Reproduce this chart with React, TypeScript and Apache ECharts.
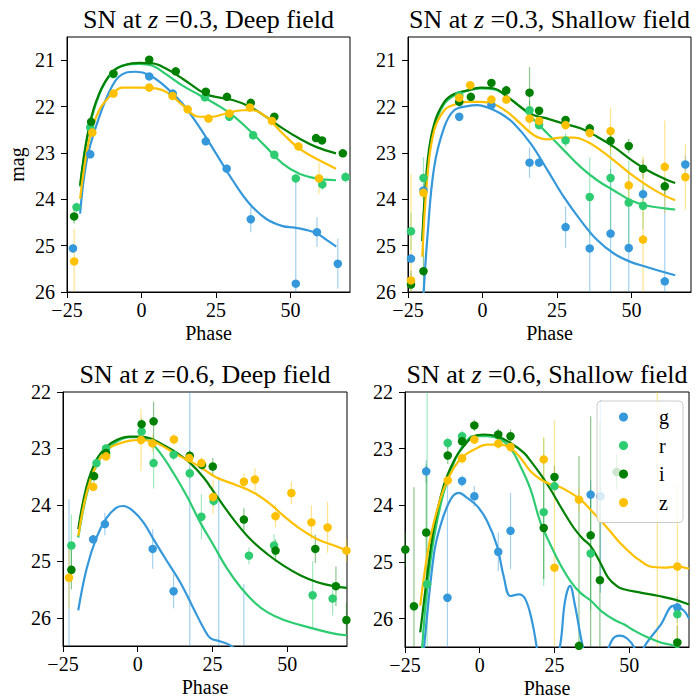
import React, { useEffect, useRef } from "react";
import * as echarts from "echarts";

// ---------- data: [phase, mag, err] ----------
const BANDS = ["g", "r", "i", "z"];
const COLORS = ["#3498db", "#2ecc71", "#008000", "#ffc000"];
const X_TICKS = [-25, 0, 25, 50];
const Y_TICKS_TOP = [21, 22, 23, 24, 25, 26];
const Y_TICKS_BOTTOM = [22, 23, 24, 25, 26];

// SN at z=0.3, Deep field
const d03_g = [[-23, 25.06, 0.1], [-17.2, 23.03, 0.08], [2.6, 21.35, 0.05], [10.5, 21.72, 0.05], [21.6, 22.75, 0.07], [28.6, 23.34, 0.1], [36.7, 24.43, 0.28], [51.8, 25.82, 2.3], [58.9, 24.71, 0.32], [65.9, 25.39, 0.54]];
const d03_r = [[-21.8, 24.17, 0.1], [-17.2, 22.45, 0.06], [-9.5, 21.3, 0.05], [21.3, 21.8, 0.05], [29.5, 22.22, 0.06], [37.5, 22.62, 0.08], [44.6, 23.04, 0.1], [51.8, 23.55, 0.1], [60.7, 23.68, 0.12], [68.5, 23.52, 0.12]];
const d03_i = [[-22.6, 24.37, 0.15], [-16.9, 22.33, 0.05], [-9.4, 21.29, 0.04], [2.6, 20.99, 0.04], [11.5, 21.24, 0.04], [21.6, 21.68, 0.05], [28.7, 21.79, 0.05], [36.7, 21.92, 0.05], [44.6, 22.22, 0.06], [58.6, 22.68, 0.07], [60.6, 22.73, 0.07], [67.6, 23.01, 0.08]];
const d03_z = [[-22.6, 25.34, 0.7], [-16.5, 22.56, 0.06], [-9.4, 21.72, 0.05], [2.6, 21.59, 0.04], [10.4, 21.77, 0.05], [15.5, 22.06, 0.05], [22.5, 22.26, 0.06], [29.5, 22.15, 0.06], [36.4, 22.02, 0.06], [43.8, 22.31, 0.07], [52.7, 22.86, 0.09], [59.6, 23.55, 0.33]];
const d03_g_fit = [[-20.6, 24.31], [-18.5, 23.2], [-15.3, 22.44], [-9.7, 21.54], [-5.3, 21.27], [-1.9, 21.25], [2.6, 21.32], [8.2, 21.58], [13.8, 21.94], [19.4, 22.44], [25, 23.01], [30.6, 23.59], [36.2, 24.09], [41.8, 24.42], [47.4, 24.58], [51.4, 24.61], [55.2, 24.66], [58.7, 24.73], [62, 24.87], [65.4, 25.02]];
const d03_r_fit = [[-20.6, 23.73], [-18, 22.6], [-14.2, 21.75], [-9.7, 21.25], [-5.3, 21.1], [-0.8, 21.08], [3.7, 21.12], [8.2, 21.3], [13.8, 21.55], [19.4, 21.75], [25, 21.95], [30.6, 22.19], [36.2, 22.51], [41.8, 22.87], [47.4, 23.23], [53, 23.45], [58.6, 23.55], [65.3, 23.59]];
const d03_i_fit = [[-20.6, 23.7], [-17.6, 22.44], [-14.2, 21.72], [-9.7, 21.25], [-5.3, 21.1], [-0.8, 21.06], [3.7, 21.07], [8.2, 21.18], [13.8, 21.4], [19.4, 21.65], [22.7, 21.76], [30.6, 21.86], [36.2, 22.0], [41.8, 22.22], [47.4, 22.47], [53, 22.69], [58.6, 22.87], [65.3, 23.01]];
const d03_z_fit = [[-20.6, 23.99], [-17.6, 22.73], [-14.2, 22.08], [-9.7, 21.72], [-6.4, 21.59], [-0.8, 21.59], [4.8, 21.61], [9.3, 21.72], [13.8, 21.97], [19.4, 22.22], [23.9, 22.22], [28.3, 22.15], [33.9, 22.08], [37.3, 22.08], [41.8, 22.22], [47.4, 22.58], [53, 22.91], [58.6, 23.12], [65.3, 23.34]];

// SN at z=0.3, Shallow field
const s03_g = [[-24, 25.28, 0.1], [-19.8, 23.81, 0.15], [-7.8, 22.22, 0.06], [3.0, 21.97, 0.06], [15.8, 23.21, 0.33], [19.0, 23.21, 0.1], [27.9, 24.6, 0.45], [36.0, 25.06, 1.0], [43.0, 24.74, 1.4], [49.1, 25.05, 1.0], [53.9, 23.89, 0.15], [61.2, 25.77, 2.2], [68.1, 23.25, 0.2]];
const s03_r = [[-24, 24.69, 0.4], [-19.8, 23.54, 0.45], [-7.8, 21.76, 0.06], [15.8, 22.08, 0.2], [19.0, 22.4, 0.1], [27.9, 22.73, 0.15], [36.0, 23.95, 0.85], [43.0, 23.54, 1.1], [49.1, 24.07, 0.9], [53.9, 24.14, 0.5]];
const s03_i = [[-24, 25.84, 0.3], [-19.8, 25.55, 0.5], [-7.8, 21.9, 0.05], [-3.9, 21.79, 0.05], [3.0, 21.49, 0.05], [8.0, 21.65, 0.1], [15.8, 21.7, 0.55], [19.0, 22.09, 0.08], [27.9, 22.29, 0.08], [36.0, 22.47, 0.1], [43.0, 22.74, 0.15], [49.1, 22.85, 0.15], [53.9, 23.34, 0.2], [61.2, 23.72, 0.2]];
const s03_z = [[-24, 25.75, 2.3], [-19.8, 23.86, 0.15], [-7.8, 21.81, 0.05], [-4.1, 21.54, 0.05], [3.0, 21.85, 0.05], [8.0, 21.85, 0.08], [15.8, 22.26, 0.3], [19.0, 22.31, 0.08], [27.9, 22.4, 0.1], [36.0, 22.57, 0.1], [43.0, 22.53, 0.5], [49.1, 23.7, 0.3], [53.9, 24.87, 1.8], [61.2, 23.3, 1.0], [68.1, 23.52, 0.7]];
const s03_g_fit = [[-20, 26.3], [-18.4, 24.74], [-16.2, 23.3], [-12.8, 22.44], [-9.5, 22.08], [-5, 21.99], [-1.7, 21.97], [1.7, 22.02], [6.1, 22.15], [10.6, 22.37], [16.2, 22.8], [21.8, 23.37], [27.3, 23.95], [32.9, 24.45], [38.5, 24.88], [44.1, 25.17], [49.7, 25.35], [55.2, 25.46], [60.8, 25.57], [64.7, 25.64]];
const s03_r_fit = [[-20.2, 24.9], [-18.4, 23.3], [-16.2, 22.44], [-12.8, 21.94], [-9.5, 21.76], [-5, 21.66], [-0.6, 21.61], [3.9, 21.63], [8.4, 21.79], [12.8, 22.01], [17.3, 22.29], [21.8, 22.58], [27.3, 22.94], [32.9, 23.3], [38.5, 23.59], [44.1, 23.81], [49.7, 24.02], [55.2, 24.14], [61.9, 24.2], [64.7, 24.22]];
const s03_i_fit = [[-20.2, 24.9], [-18.4, 23.16], [-16.2, 22.37], [-12.8, 21.9], [-9.5, 21.73], [-5, 21.65], [-0.6, 21.59], [3.9, 21.61], [8.4, 21.79], [12.8, 22.01], [17.3, 22.19], [21.8, 22.26], [27.3, 22.37], [32.9, 22.47], [38.5, 22.65], [44.1, 22.87], [49.7, 23.14], [55.2, 23.37], [60.8, 23.55], [64.7, 23.65]];
const s03_z_fit = [[-20.2, 25.24], [-18.4, 23.44], [-16.2, 22.51], [-12.8, 22.08], [-9.5, 21.96], [-5, 21.9], [-0.6, 21.9], [3.9, 21.95], [8.4, 22.12], [12.8, 22.37], [17.3, 22.62], [21.8, 22.71], [26.2, 22.67], [30.7, 22.67], [35.2, 22.76], [39.6, 22.94], [44.1, 23.16], [49.7, 23.45], [55.2, 23.7], [60.8, 23.91], [64.7, 24.02]];

// SN at z=0.6, Deep field
const d06_g = [[-23, 26.8, 2.9], [-14.9, 24.61, 0.06], [-11, 24.34, 0.2], [5, 24.78, 0.35], [12, 25.53, 0.3], [17.4, 27.5, 5.5], [27.1, 27.0, 3.5], [35.5, 27.2, 1.8]];
const d06_r = [[-22.2, 24.72, 0.55], [-13.8, 23.26, 0.1], [-10.6, 23.0, 0.08], [1.3, 22.7, 0.1], [5.3, 23.26, 0.45], [12, 23.11, 0.1], [17.4, 23.44, 0.1], [21.3, 24.21, 0.4], [25.4, 23.93, 0.1], [37.2, 24.9, 0.15], [45.6, 24.72, 0.2], [58.5, 25.6, 0.6], [65.2, 25.66, 0.3]];
const d06_i = [[-22.2, 25.15, 0.35], [-14.6, 23.49, 0.1], [-10.6, 23.08, 0.08], [1.3, 22.57, 0.1], [5.3, 22.52, 0.35], [17.4, 23.13, 0.1], [21.5, 23.29, 0.1], [25.1, 23.32, 0.15], [35.5, 24.26, 0.2], [46.1, 24.81, 0.2], [59.4, 24.78, 0.25], [66.3, 25.44, 0.35], [69.8, 26.04, 0.3]];
const d06_z = [[-23, 25.29, 0.55], [-14.9, 23.68, 0.08], [-10.6, 23.14, 0.08], [1.1, 22.85, 0.55], [4.9, 22.91, 0.15], [12.1, 22.84, 0.1], [17.2, 23.17, 0.1], [21.3, 23.26, 0.1], [25.2, 23.86, 0.3], [35.5, 23.59, 0.15], [39.2, 23.55, 0.2], [46.1, 24.2, 0.2], [51.4, 23.79, 0.2], [58.1, 24.31, 0.3], [63.5, 24.4, 0.45], [69.8, 24.81, 0.2]];
const d06_g_fit = [[-19.9, 25.87], [-17.1, 25.13], [-13.8, 24.58], [-10.4, 24.23], [-7.1, 24.05], [-4.8, 24.02], [-1.5, 24.11], [1.9, 24.31], [5.3, 24.61], [9.7, 24.99], [14.2, 25.37], [18.7, 25.84], [22.1, 26.19], [24.3, 26.36], [27.7, 26.42], [31, 26.49], [34, 26.62]];
const d06_r_fit = [[-19.9, 24.58], [-17.1, 23.82], [-13.8, 23.29], [-10.4, 23.03], [-7.1, 22.88], [-2.6, 22.8], [0.8, 22.8], [4.1, 22.88], [7.5, 23.08], [12, 23.44], [16.5, 23.85], [20.9, 24.31], [25.4, 24.72], [29.9, 25.13], [34.4, 25.46], [38.9, 25.72], [43.3, 25.9], [48.9, 26.04], [54.5, 26.13], [60.1, 26.21], [65.7, 26.28], [70, 26.31]];
const d06_i_fit = [[-19.9, 24.43], [-17.1, 23.67], [-13.8, 23.2], [-10.4, 22.97], [-7.1, 22.85], [-2.6, 22.79], [0.8, 22.79], [4.1, 22.82], [8.6, 22.94], [13.1, 23.08], [17.6, 23.26], [22.1, 23.52], [26.5, 23.85], [32.1, 24.26], [37.7, 24.61], [43.3, 24.87], [48.9, 25.08], [54.5, 25.25], [60.1, 25.37], [65.7, 25.44], [70, 25.47]];
const d06_z_fit = [[-19.9, 24.55], [-17.1, 23.79], [-13.8, 23.29], [-10.4, 23.03], [-7.1, 22.93], [-2.6, 22.86], [0.8, 22.85], [5.3, 22.88], [9.7, 23.0], [14.2, 23.14], [18.7, 23.26], [23.2, 23.41], [26.5, 23.52], [31, 23.61], [35.5, 23.7], [40, 23.82], [44.5, 23.99], [48.9, 24.2], [54.5, 24.43], [60.1, 24.61], [65.7, 24.72], [70, 24.81]];

// SN at z=0.6, Shallow field
const s06_g = [[-17.9, 23.4, 0.2], [-10.8, 25.63, 2.0], [-5.9, 23.57, 0.1], [-1.8, 23.84, 0.18], [6.2, 24.82, 0.34], [10.3, 24.45, 0.67], [37.1, 23.81, 0.25], [40.4, 23.84, 1.7], [66.1, 25.8, 0.2]];
const s06_r = [[-17.6, 25.39, 3.5], [-10.7, 22.9, 0.1], [-5.9, 22.78, 0.1], [21.4, 24.12, 1.3], [25, 23.66, 0.15], [37.1, 24.85, 1.0], [66.1, 25.92, 0.15]];
const s06_i = [[-24.9, 24.78, 0.3], [-22, 25.78, 2.1], [-17.9, 24.48, 1.2], [-10.7, 23.12, 0.15], [-5.9, 22.87, 0.1], [-1.8, 22.59, 0.1], [6.2, 22.75, 0.1], [10.3, 22.78, 0.12], [21.4, 24.4, 0.9], [25, 23.5, 0.2], [33.2, 26.48, 3.35], [37.1, 24.53, 2.1], [40.2, 25.32, 2.8], [45.8, 23.41, 0.3], [66.1, 26.42, 0.3]];
const s06_z = [[-10.7, 23.56, 0.12], [-5.9, 23.17, 0.1], [-1.8, 22.84, 0.08], [6.2, 22.91, 0.1], [10.3, 22.97, 0.1], [21.4, 23.19, 0.4], [25, 25.1, 2.6], [33.2, 23.9, 0.2], [59.4, 28.5, 6.6], [66.1, 25.08, 1.45]];
const s06_g_fit = [[-19.5, 27.0], [-18.7, 26.54], [-15.4, 24.89], [-13.2, 24.37], [-9.8, 23.9], [-7.0, 23.78], [-4.2, 23.87], [-0.9, 24.01], [2.5, 24.28], [5.8, 24.72], [8.0, 25.25], [10.3, 25.6], [13.1, 25.57], [15.3, 25.66], [17.6, 26.07], [19.2, 26.54], [22.5, 27.4], [26.8, 26.5], [28.5, 25.7], [30.2, 25.42], [31.8, 25.75], [34.5, 26.5], [38.5, 27.3], [43.2, 26.5], [45.2, 26.32], [47.1, 26.3], [49.3, 26.35], [51.6, 26.5], [53.3, 26.8], [55, 26.5], [60.5, 26.11], [65, 25.77], [68.3, 25.86], [70, 26.0]];
const s06_r_fit = [[-19.3, 26.54], [-17.6, 25.48], [-15.4, 24.6], [-12.1, 23.78], [-8.7, 23.25], [-5.4, 22.93], [-2, 22.78], [2.5, 22.78], [6.9, 22.84], [10.3, 22.99], [13.6, 23.31], [17, 23.72], [20.3, 24.3], [23.7, 24.7], [27, 25.05], [30.5, 25.35], [33.8, 25.55], [37.1, 25.68], [41, 25.88], [45, 26.02], [48.2, 26.1], [52, 26.22], [56.1, 26.33], [60.5, 26.42], [65, 26.48], [70, 26.65]];
const s06_i_fit = [[-19.9, 26.24], [-17.6, 25.25], [-15.4, 24.42], [-12.1, 23.66], [-8.7, 23.22], [-5.4, 22.96], [-2, 22.78], [1.3, 22.75], [5.8, 22.78], [10.3, 22.9], [14.7, 23.07], [17.5, 23.25], [20.3, 23.45], [23.7, 23.72], [27, 24.02], [31.5, 24.4], [34.3, 24.58], [37.1, 24.72], [40.2, 25.0], [43, 25.28], [46, 25.43], [48.2, 25.48], [53.8, 25.54], [60, 25.6], [65, 25.66], [70, 25.75]];
const s06_z_fit = [[-19.9, 25.77], [-17.6, 24.89], [-15.4, 24.31], [-12.1, 23.72], [-8.7, 23.34], [-5.4, 23.13], [-2, 23.02], [2.5, 22.93], [6.9, 22.93], [10.3, 22.99], [13.6, 23.16], [17, 23.4], [20.3, 23.54], [23.7, 23.63], [27, 23.68], [29.4, 23.75], [33.8, 23.9], [38.3, 24.15], [42.7, 24.4], [47.2, 24.68], [51.7, 24.9], [53.8, 24.98], [57, 25.08], [61.7, 25.1], [66.1, 25.08], [70, 25.12]];

// ---------- layout ----------
const FONT = '"Liberation Serif", "Times New Roman", serif';
const PANELS = [
  { z: "0.3", field: "Deep", box: { left: 67, top: 37, width: 283, height: 255 }, titleY: 19, yMin: 20.5, yMax: 26, yTicks: Y_TICKS_TOP, yName: "mag", pts: [d03_g, d03_r, d03_i, d03_z], fits: [d03_g_fit, d03_r_fit, d03_i_fit, d03_z_fit] },
  { z: "0.3", field: "Shallow", box: { left: 408, top: 37, width: 283, height: 255 }, titleY: 19, yMin: 20.5, yMax: 26, yTicks: Y_TICKS_TOP, yName: "", pts: [s03_g, s03_r, s03_i, s03_z], fits: [s03_g_fit, s03_r_fit, s03_i_fit, s03_z_fit] },
  { z: "0.6", field: "Deep", box: { left: 63, top: 392, width: 284, height: 254 }, titleY: 374, yMin: 22, yMax: 26.5, yTicks: Y_TICKS_BOTTOM, yName: "", pts: [d06_g, d06_r, d06_i, d06_z], fits: [d06_g_fit, d06_r_fit, d06_i_fit, d06_z_fit] },
  { z: "0.6", field: "Shallow", box: { left: 405, top: 392, width: 284, height: 255 }, titleY: 374, yMin: 22, yMax: 26.5, yTicks: Y_TICKS_BOTTOM, yName: "", pts: [s06_g, s06_r, s06_i, s06_z], fits: [s06_g_fit, s06_r_fit, s06_i_fit, s06_z_fit] },
];

const fmtTick = (v: number) => (v < 0 ? "\u2212" + Math.abs(v) : String(v));

const errRender = (color: string) => (params: any, api: any) => {
  const x = api.value(0);
  const y = api.value(1);
  const e = api.value(2);
  const a = api.coord([x, y - e]);
  const b = api.coord([x, y + e]);
  return {
    type: "line",
    shape: { x1: a[0], y1: a[1], x2: b[0], y2: b[1] },
    style: { stroke: color, lineWidth: 1.2, opacity: 0.45 },
  };
};

function buildOption() {
  const grid: any[] = [];
  const xAxis: any[] = [];
  const yAxis: any[] = [];
  const title: any[] = [];
  const series: any[] = [];
  const labelStyle = { fontFamily: FONT, fontSize: 20, color: "#000", fontWeight: "normal" };

  PANELS.forEach((p, i) => {
    grid.push({
      ...p.box,
      show: true,
      borderColor: "#000",
      borderWidth: 1,
      backgroundColor: "transparent",
      containLabel: false,
      outerBoundsMode: "none",
    });
    xAxis.push({
      type: "value",
      gridIndex: i,
      min: -25,
      max: 70,
      name: "Phase",
      nameLocation: "middle",
      nameGap: 31,
      nameTextStyle: labelStyle,
      axisLine: { show: true, onZero: false, lineStyle: { color: "#000", width: 1 } },
      axisTick: { show: true, inside: false, length: 6, lineStyle: { color: "#000", width: 1 }, customValues: X_TICKS },
      axisLabel: { ...labelStyle, margin: 8, formatter: fmtTick, customValues: X_TICKS },
      splitLine: { show: false },
    });
    yAxis.push({
      type: "value",
      gridIndex: i,
      inverse: true,
      min: p.yMin,
      max: p.yMax,
      name: p.yName,
      nameLocation: "middle",
      nameGap: 40,
      nameRotate: 90,
      nameTextStyle: labelStyle,
      axisLine: { show: true, onZero: false, lineStyle: { color: "#000", width: 1 } },
      axisTick: { show: true, inside: false, length: 6, lineStyle: { color: "#000", width: 1 }, customValues: p.yTicks },
      axisLabel: { ...labelStyle, margin: 12, formatter: fmtTick, customValues: p.yTicks },
      splitLine: { show: false },
    });
    title.push({
      text: `{a|SN at }{b|z}{a| =${p.z}, ${p.field} field}`,
      left: p.box.left + p.box.width / 2,
      top: p.titleY,
      padding: 0,
      textAlign: "center",
      textVerticalAlign: "middle",
      textStyle: {
        fontFamily: FONT,
        fontWeight: "normal",
        fontSize: 26,
        color: "#000",
        rich: {
          a: { fontFamily: FONT, fontSize: 26, color: "#000", fontWeight: "normal" },
          b: { fontFamily: FONT, fontSize: 26, color: "#000", fontStyle: "italic", fontWeight: "normal" },
        },
      },
    });

    BANDS.forEach((b, k) => {
      const pts = p.pts[k];
      series.push({
        type: "custom",
        name: b,
        xAxisIndex: i,
        yAxisIndex: i,
        clip: true,
        silent: true,
        z: 2,
        data: pts,
        encode: { x: 0, y: 1 },
        renderItem: errRender(COLORS[k]),
      });
      series.push({
        type: "scatter",
        name: b,
        xAxisIndex: i,
        yAxisIndex: i,
        silent: true,
        z: 2,
        symbol: "circle",
        symbolSize: 8.5,
        data: pts.map((q) => [q[0], q[1]]),
        itemStyle: { color: COLORS[k], opacity: 1 },
      });
      series.push({
        type: "line",
        name: b,
        xAxisIndex: i,
        yAxisIndex: i,
        silent: true,
        z: 2,
        clip: true,
        showSymbol: false,
        smooth: 0.4,
        data: p.fits[k],
        lineStyle: { color: COLORS[k], width: 2.2 },
        itemStyle: { color: COLORS[k] },
      });
    });
  });

  return {
    animation: false,
    backgroundColor: "#fff",
    textStyle: { fontFamily: FONT, fontWeight: "normal" },
    title,
    grid,
    xAxis,
    yAxis,
    legend: {
      data: BANDS.map((b, k) => ({ name: b, icon: "circle", itemStyle: { color: COLORS[k] } })),
      orient: "vertical",
      left: 597,
      top: 401,
      itemWidth: 9,
      itemHeight: 9,
      itemGap: 8.5,
      padding: [6, 14, 10, 22],
      backgroundColor: "rgba(255,255,255,0.8)",
      borderColor: "#cccccc",
      borderWidth: 1,
      borderRadius: 4,
      selectedMode: false,
      z: 10,
      textStyle: { fontFamily: FONT, fontSize: 20, color: "#000", lineHeight: 20, padding: [0, 0, 0, 26] },
    },
    series,
  };
}

export default function App() {
  const ref = useRef<HTMLDivElement>(null);
  useEffect(() => {
    if (!ref.current) return;
    const chart = echarts.init(ref.current, null, { renderer: "svg" });
    chart.setOption(buildOption() as any);
    return () => chart.dispose();
  }, []);
  return (
    <div
      ref={ref}
      style={{ position: "fixed", left: 0, top: 0, width: 697, height: 700, background: "#fff" }}
    />
  );
}
